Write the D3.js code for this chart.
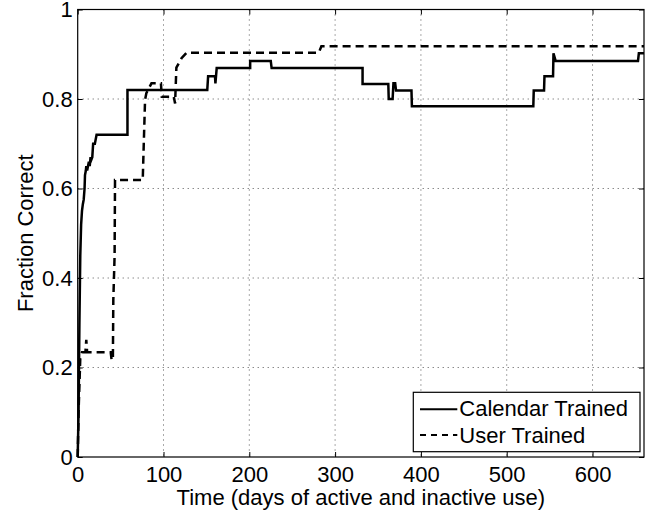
<!DOCTYPE html>
<html>
<head>
<meta charset="utf-8">
<script src="https://cdn.jsdelivr.net/npm/d3@7"></script>
<style>
  body { margin: 0; background: #fff; }
  text { font-family: "Liberation Sans", Arial, Helvetica, sans-serif; fill: #000; }
</style>
</head>
<body>
<div class="chart"></div>
<script>
// data (days, fraction correct)
var calendarDays = [0, 1, 2, 3, 4, 5, 6, 7, 8, 8.5, 9.5, 10, 11, 12, 13, 14, 15, 16, 17, 18, 20, 22,
    58, 58, 151, 152, 160, 160.5, 162, 201, 201, 225, 226, 332, 332, 362, 362.5, 367, 368, 370, 371,
    389, 389.5, 531, 531.5, 543.5, 544, 554, 554.5, 557, 653, 654, 660];
var calendarFrac = [0, 0.10, 0.30, 0.45, 0.52, 0.55, 0.565, 0.575, 0.60, 0.63, 0.64, 0.65, 0.64, 0.65, 0.66, 0.65, 0.67, 0.665, 0.67, 0.70, 0.70, 0.72,
    0.72, 0.82, 0.82, 0.851, 0.851, 0.835, 0.869, 0.869, 0.885, 0.885, 0.869, 0.869, 0.8335, 0.8335, 0.80, 0.80, 0.835, 0.835, 0.819,
    0.819, 0.784, 0.784, 0.819, 0.819, 0.851, 0.851, 0.902, 0.885, 0.885, 0.902, 0.902];

var userDays = [0, 1, 3, 5, 9, 10, 11, 38.5, 39.5, 41, 41.5, 43, 43.5, 75.8, 77, 78.5, 80, 86, 97, 98,
    112, 113.5, 115, 121, 127, 281, 284, 660];
var userFrac = [0, 0.10, 0.22, 0.234, 0.234, 0.262, 0.234, 0.234, 0.217, 0.217, 0.35, 0.45, 0.619, 0.619, 0.70, 0.798, 0.813, 0.835, 0.835, 0.805,
    0.805, 0.79, 0.87, 0.891, 0.9035, 0.9035, 0.918, 0.918];

var xTicks = [0, 100, 200, 300, 400, 500, 600];
var yTicks = [0, 0.2, 0.4, 0.6, 0.8, 1];
var seriesNames = ["Calendar Trained", "User Trained"];

var margin = ({top: 9.5, right: 8, bottom: 57, left: 77.7});
var width = 652 - margin.left - margin.right,
    height = 514 - margin.top - margin.bottom;

var svg = d3.select(".chart").append("svg")
    .attr("width", 652)
    .attr("height", 514)
    .append("g")
    .attr("transform", "translate(" + margin.left + "," + margin.top + ")");

const xScale = d3.scaleLinear().domain([0, 660]).range([0, width]);
const yScale = d3.scaleLinear().domain([0, 1]).range([height, 0]);

// dotted grid
svg.append("g").selectAll("line").data(xTicks.slice(1)).join("line")
    .attr("x1", d => xScale(d)).attr("x2", d => xScale(d))
    .attr("y1", 0).attr("y2", height)
    .attr("stroke", "#555").attr("stroke-dasharray", "1,4");
svg.append("g").selectAll("line").data(yTicks.slice(1, -1)).join("line")
    .attr("x1", 0).attr("x2", width)
    .attr("y1", d => yScale(d)).attr("y2", d => yScale(d))
    .attr("stroke", "#555").attr("stroke-dasharray", "1,4");

// axes, ticks pointing inwards
const xAxis = d3.axisBottom(xScale).tickValues(xTicks).tickSize(-5).tickPadding(9).tickFormat(d => String(d));
const yAxis = d3.axisLeft(yScale).tickValues(yTicks).tickSize(-5).tickPadding(5).tickFormat(d => String(d));

svg.append("g")
    .attr("class", "axis x-axis")
    .attr("transform", `translate(0, ${height})`)
    .call(xAxis);
svg.append("g")
    .attr("class", "axis y-axis")
    .call(yAxis);
svg.append("g")
    .call(d3.axisTop(xScale).tickValues(xTicks).tickSize(-5).tickFormat(""));
svg.append("g")
    .attr("transform", `translate(${width}, 0)`)
    .call(d3.axisRight(yScale).tickValues(yTicks).tickSize(-5).tickFormat(""));

svg.selectAll(".axis text").style("font-size", "22px");
svg.selectAll(".domain").remove();
svg.selectAll(".tick line").attr("stroke", "#000");

svg.append("rect")
    .attr("width", width).attr("height", height)
    .attr("fill", "none").attr("stroke", "#000").attr("stroke-width", 1.2);

// lines
var line = d3.line()
    .x(d => xScale(d[0]))
    .y(d => yScale(d[1]));

svg.append("path")
    .datum(d3.zip(userDays, userFrac))
    .attr("d", line)
    .attr("fill", "none").attr("stroke", "#000").attr("stroke-width", 2.5)
    .attr("stroke-dasharray", "8,5");

svg.append("path")
    .datum(d3.zip(calendarDays, calendarFrac))
    .attr("d", line)
    .attr("fill", "none").attr("stroke", "#000").attr("stroke-width", 2.5)
    .attr("stroke-linejoin", "miter");

// axis labels
svg.append("text")
    .attr("x", width / 2).attr("y", height + 48)
    .attr("text-anchor", "middle")
    .style("font-size", "22px")
    .text("Time (days of active and inactive use)");

svg.append("text")
    .attr("transform", `translate(${33 - margin.left}, ${height / 2}) rotate(-90)`)
    .attr("text-anchor", "middle")
    .style("font-size", "22px")
    .text("Fraction Correct");

// legend
var legend = svg.append("g").attr("transform", `translate(${413.3 - margin.left}, ${392.3 - margin.top})`);
legend.append("rect")
    .attr("width", 226.7).attr("height", 59.4)
    .attr("fill", "#fff").attr("stroke", "#000").attr("stroke-width", 1.2);
legend.selectAll("line").data(seriesNames).join("line")
    .attr("x1", 6.7).attr("x2", 44)
    .attr("y1", (d, i) => 17 + i * 25.7).attr("y2", (d, i) => 17 + i * 25.7)
    .attr("stroke", "#000").attr("stroke-width", 2)
    .attr("stroke-dasharray", (d, i) => i ? "6,5" : null);
legend.selectAll("text").data(seriesNames).join("text")
    .attr("x", 46).attr("y", (d, i) => 23.7 + i * 26.7)
    .style("font-size", "22px")
    .text(d => d);
</script>
</body>
</html>
